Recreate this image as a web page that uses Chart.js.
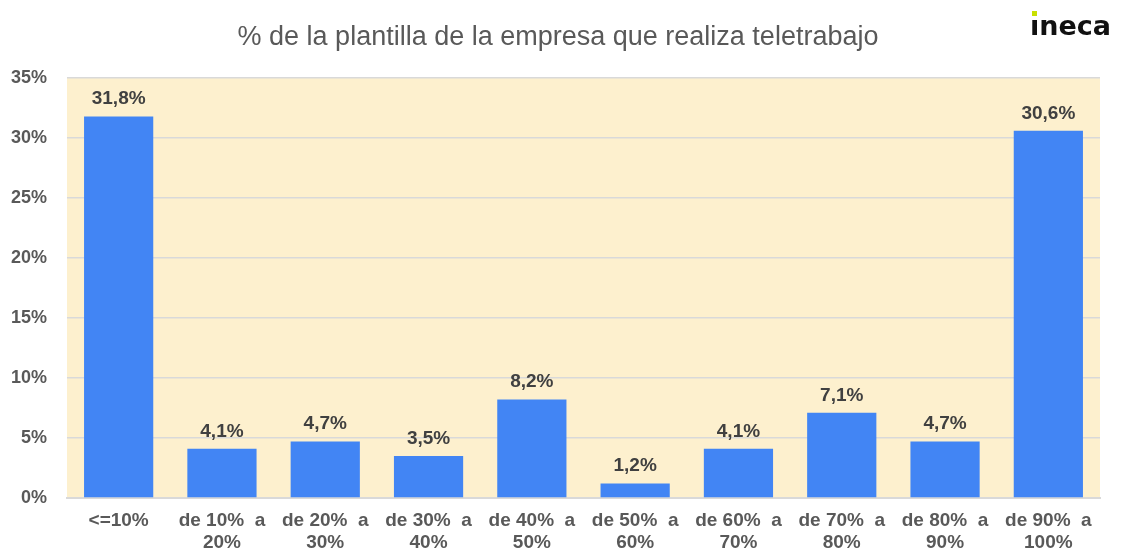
<!DOCTYPE html>
<html>
<head>
<meta charset="utf-8">
<script src="https://cdn.jsdelivr.net/npm/chart.js@4"></script>
<style>
  html, body { margin: 0; padding: 0; background: #fff; }
  #wrap { width: 1121px; height: 554px; position: relative; }
</style>
</head>
<body>
<div id="wrap"><canvas id="grafico"></canvas></div>
<script>
// datos del gráfico
var categorias = [
  "<=10%",
  ["de 10%  a", "20%"],
  ["de 20%  a", "30%"],
  ["de 30%  a", "40%"],
  ["de 40%  a", "50%"],
  ["de 50%  a", "60%"],
  ["de 60%  a", "70%"],
  ["de 70%  a", "80%"],
  ["de 80%  a", "90%"],
  ["de 90%  a", "100%"]
];
var valores = [31.8, 4.1, 4.7, 3.5, 8.2, 1.2, 4.1, 7.1, 4.7, 30.6];
var titulo = "% de la plantilla de la empresa que realiza teletrabajo";

var fuente = "'Liberation Sans', Arial, sans-serif";

// fondo crema del área de trazado + título + logo
var fondoPlugin = {
  id: "fondo",
  beforeDraw: function (chart) {
    var ctx = chart.ctx, a = chart.chartArea;
    ctx.save();
    ctx.fillStyle = "#FDF0CE";
    ctx.fillRect(a.left, a.top, a.right - a.left, a.bottom - a.top);
    ctx.restore();
  },
  afterDraw: function (chart) {
    var ctx = chart.ctx;
    ctx.save();
    // título
    ctx.fillStyle = "#595959";
    ctx.font = "27px " + fuente;
    ctx.textAlign = "center";
    ctx.textBaseline = "middle";
    ctx.fillText(titulo, 558, 38);
    // logo
    ctx.font = "bold 27px 'DejaVu Sans', sans-serif";
    ctx.textAlign = "left";
    ctx.textBaseline = "alphabetic";
    ctx.fillStyle = "#111";
    ctx.fillText("\u0131neca", 1030, 35);
    ctx.fillStyle = "#C8E000";
    ctx.fillRect(1032, 11, 5, 5);
    ctx.restore();
  }
};

// etiquetas de valor encima de cada barra
var etiquetasPlugin = {
  id: "etiquetas",
  afterDatasetsDraw: function (chart) {
    var ctx = chart.ctx;
    var meta = chart.getDatasetMeta(0);
    ctx.save();
    ctx.fillStyle = "#404040";
    ctx.font = "bold 19px " + fuente;
    ctx.textAlign = "center";
    ctx.textBaseline = "bottom";
    meta.data.forEach(function (barra, i) {
      var txt = valores[i].toFixed(1).replace(".", ",") + "%";
      ctx.fillText(txt, barra.x, barra.y - 8);
    });
    ctx.restore();
  }
};

var ctx = document.getElementById("grafico").getContext("2d");
var grafico = new Chart(ctx, {
  type: "bar",
  data: {
    labels: categorias,
    datasets: [{
      data: valores,
      backgroundColor: "#4285F4",
      borderWidth: 0,
      barPercentage: 0.67,
      categoryPercentage: 1
    }]
  },
  options: {
    responsive: true,
    maintainAspectRatio: false,
    animation: false,
    layout: { padding: { top: 78, right: 21, left: 0, bottom: 0 } },
    plugins: {
      legend: { display: false },
      tooltip: { enabled: false }
    },
    scales: {
      x: {
        grid: { display: false, drawTicks: false },
        border: { color: "#D9D9D9", width: 2 },
        ticks: {
          color: "#595959",
          font: { family: fuente, size: 19, weight: "bold", lineHeight: 1.16 },
          padding: 12,
          maxRotation: 0,
          autoSkip: false
        },
        afterFit: function (s) { s.height = 56; }
      },
      y: {
        min: 0,
        max: 35,
        grid: { color: "#D9D9D9", lineWidth: 1.5, drawTicks: false },
        border: { display: false },
        ticks: {
          stepSize: 5,
          color: "#595959",
          font: { family: fuente, size: 18, weight: "bold" },
          padding: 20,
          callback: function (v) { return v + "%"; }
        },
        afterFit: function (s) { s.width = 67; }
      }
    }
  },
  plugins: [fondoPlugin, etiquetasPlugin]
});
</script>
</body>
</html>
